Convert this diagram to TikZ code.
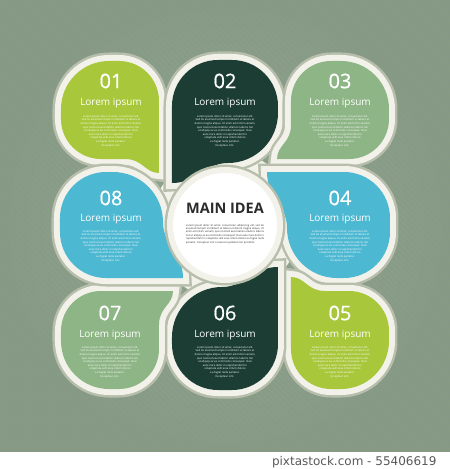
\documentclass[tikz,border=0pt]{standalone}
\usepackage{fontspec}
\setmainfont{Open Sans}
\newfontfamily\numfont[FakeBold=0.7]{Open Sans}
\newfontfamily\creditfont{DejaVu Sans}
\usetikzlibrary{patterns.meta}

\definecolor{lime}{HTML}{A9C73A}
\definecolor{pine}{HTML}{1B3D33}
\definecolor{sage}{HTML}{8DB585}
\definecolor{lagoon}{HTML}{4DB8D2}
\definecolor{bglight}{HTML}{93A791}
\definecolor{bgdark}{HTML}{869A84}
\definecolor{stripe}{HTML}{86998A}
\definecolor{rim}{HTML}{F3F2EA}
\definecolor{rimshade}{HTML}{B7BFAC}
\definecolor{ink}{HTML}{2A2A2A}

\newcommand{\petaltext}{Lorem ipsum dolor sit amet, consectetur elit.\\
Sed do eiusmod tempor incididunt ut labore et\\
dolore magna aliqua. Ut enim ad minim veniam,\\
quis nostrud exercitation ullamco laboris nisi\\
ut aliquip ex ea commodo consequat. Duis\\
aute irure dolor in reprehenderit in\\
voluptate velit esse cillum dolore\\
eu fugiat nulla pariatur.\\
Excepteur sint.}
\newcommand{\ideatext}{Lorem ipsum dolor sit amet, consectetur adipiscing elit, sed do eiusmod tempor incididunt ut labore et dolore magna aliqua. Ut enim ad minim veniam, quis nostrud exercitation ullamco laboris nisi ut aliquip ex ea commodo consequat. Duis aute irure dolor in reprehenderit in voluptate velit esse cillum dolore eu fugiat nulla pariatur. Excepteur sint occaecat cupidatat non proident.}

\begin{document}
\begin{tikzpicture}[x=1pt, y=1pt]
  \tikzstyle{petal}=[preaction={draw=rimshade, line width=17pt}, preaction={draw=rim, line width=12pt}]
  \tikzstyle{number}=[text=white, font=\numfont\fontsize{20}{20}\selectfont]
  \tikzstyle{heading}=[text=white, font=\fontsize{10}{10}\selectfont]
  \tikzstyle{blurb}=[text=white, align=center, inner sep=0pt, font=\fontsize{2.7}{3.6}\selectfont]
  \tikzstyle{corner drop}=[insert path={(-66,52) -- (-66,124) arc[start angle=0, end angle=90, radius=40]
    -- (-116,164) arc[start angle=90, end angle=180, radius=48]
    -- (-164,106) arc[start angle=180, end angle=270, radius=40]
    -- (-100,66) .. controls (-82,66) and (-80,52) .. (-66,52) -- cycle}]
  \tikzstyle{side drop}=[insert path={(-53,42) -- (-53,119) arc[start angle=180, end angle=90, radius=46]
    -- (7,165) arc[start angle=90, end angle=0, radius=46]
    -- (53,112) arc[start angle=0, end angle=-90, radius=50]
    .. controls (-20,62) and (-28,42) .. (-53,42) -- cycle}]

  % backdrop
  \useasboundingbox (-225,-244) rectangle (225,225);
  \fill[white] (-225,-244) rectangle (225,225);
  \shade[inner color=bglight, outer color=bgdark] (-225,-226) rectangle (225,225);
  \fill[pattern={Lines[angle=-45, distance=4pt, line width=1.2pt]}, pattern color=stripe] (-225,-226) rectangle (225,225);
  \fill[rim] (0,0) circle (74);

  % top row
  \path[petal, fill=lime, corner drop];
  \path[petal, fill=pine, side drop];

  % right side
  \begin{scope}[rotate=-90]
    \path[petal, fill=sage, corner drop];
    \path[petal, fill=lagoon, side drop];
  \end{scope}

  % bottom row
  \begin{scope}[rotate=180]
    \path[petal, fill=lime, corner drop];
    \path[petal, fill=pine, side drop];
  \end{scope}

  % left side
  \begin{scope}[rotate=90]
    \path[petal, fill=sage, corner drop];
    \path[petal, fill=lagoon, side drop];
  \end{scope}

  \node[circle, petal, fill=white, minimum size=104pt] (hub) at (0,0) {};
  \node[text=ink, font=\fontsize{14.5}{15}\bfseries] (idea) at (0,16.5) {MAIN IDEA};
  \node[text=ink, text width=78pt, align=justify, inner sep=0pt, font=\fontsize{2.6}{3.4}\selectfont] (ideabody) at (0,-9) {\ideatext};

  \node[number] (n1) at (-114,144) {01};
  \node[heading] (h1) at (-114,122) {Lorem ipsum};
  \node[blurb] (b1) at (-114,94) {\petaltext};

  \node[number] (n2) at (0,144) {02};
  \node[heading] (h2) at (0,122) {Lorem ipsum};
  \node[blurb] (b2) at (0,94) {\petaltext};

  \node[number] (n3) at (115,144) {03};
  \node[heading] (h3) at (115,122) {Lorem ipsum};
  \node[blurb] (b3) at (115,94) {\petaltext};

  \node[number] (n4) at (115,27) {04};
  \node[heading] (h4) at (115,6) {Lorem ipsum};
  \node[blurb] (b4) at (115,-21) {\petaltext};

  \node[number] (n5) at (115,-88) {05};
  \node[heading] (h5) at (115,-110) {Lorem ipsum};
  \node[blurb] (b5) at (115,-137) {\petaltext};

  \node[number] (n6) at (0,-88) {06};
  \node[heading] (h6) at (0,-110) {Lorem ipsum};
  \node[blurb] (b6) at (0,-137) {\petaltext};

  \node[number] (n7) at (-115,-88) {07};
  \node[heading] (h7) at (-115,-110) {Lorem ipsum};
  \node[blurb] (b7) at (-115,-137) {\petaltext};

  \node[number] (n8) at (-114,27) {08};
  \node[heading] (h8) at (-114,6) {Lorem ipsum};
  \node[blurb] (b8) at (-114,-21) {\petaltext};

  \node[anchor=base east, text=black!65, font=\creditfont\fontsize{12}{12}\selectfont] (credit) at (215,-240) {pixtastock.com - 55406619};
\end{tikzpicture}
\end{document}
